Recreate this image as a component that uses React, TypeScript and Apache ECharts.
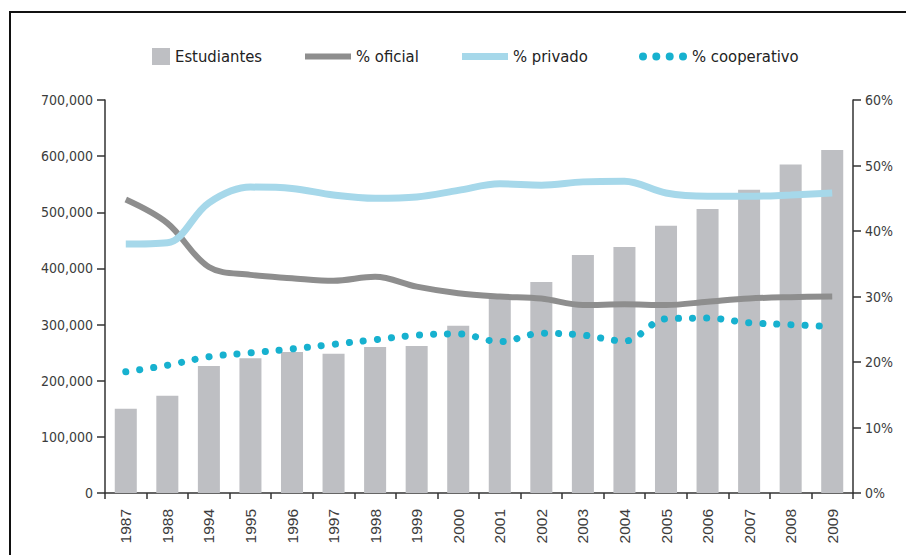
import React, { useEffect, useRef } from "react";
import * as echarts from "echarts";

const categories = ["1987", "1988", "1994", "1995", "1996", "1997", "1998", "1999", "2000", "2001", "2002", "2003", "2004", "2005", "2006", "2007", "2008", "2009"];
const estudiantes = [150000, 173000, 226000, 240000, 251000, 248000, 260000, 262000, 298000, 350000, 376000, 424000, 438000, 476000, 506000, 540000, 585000, 611000];
const oficial = [44.8, 41.2, 34.5, 33.3, 32.8, 32.4, 33.0, 31.5, 30.5, 30.0, 29.7, 28.7, 28.8, 28.7, 29.2, 29.7, 29.9, 30.0];
const privado = [38.0, 38.2, 44.3, 46.7, 46.5, 45.5, 45.0, 45.2, 46.2, 47.2, 47.0, 47.5, 47.6, 45.8, 45.3, 45.3, 45.5, 45.8];
const cooperativo = [18.5, 19.5, 20.8, 21.4, 22.0, 22.7, 23.4, 24.1, 24.3, 23.1, 24.4, 24.1, 23.2, 26.6, 26.7, 26.0, 25.7, 25.4];
const leftTicks = { min: 0, max: 700000, interval: 100000 };
const rightTicks = { min: 0, max: 60, interval: 10 };

const FONT = "'DejaVu Sans Condensed', 'DejaVu Sans', sans-serif";
const TXT = "#3c3c3c";
const DOTS_ICON =
  "path://M0,4a4,4 0 1,0 8,0a4,4 0 1,0 -8,0Z M13.3,4a4,4 0 1,0 8,0a4,4 0 1,0 -8,0Z M26.7,4a4,4 0 1,0 8,0a4,4 0 1,0 -8,0Z M40,4a4,4 0 1,0 8,0a4,4 0 1,0 -8,0Z";

export default function App() {
  const ref = useRef<HTMLDivElement>(null);
  useEffect(() => {
    document.body.style.margin = "0";
    const chart = echarts.init(ref.current!, null, { renderer: "svg" });
    const legendText = { fontSize: 16.5, fontFamily: FONT, color: "#222" };
    const axisLine = { show: true, lineStyle: { color: "#333", width: 1.5 } };
    chart.setOption({
      animation: false,
      backgroundColor: "#fff",
      graphic: [
        {
          type: "rect",
          shape: { x: 10, y: 12, width: 1200, height: 1200 },
          style: { fill: "none", stroke: "#111", lineWidth: 2 },
          silent: true,
        },
      ],
      legend: [
        { left: 152, top: 48, padding: 0, itemWidth: 18, itemHeight: 17, data: [{ name: "Estudiantes", icon: "rect" }], textStyle: legendText },
        { left: 305, top: 48, padding: 0, itemWidth: 46, itemHeight: 6, data: [{ name: "% oficial", icon: "rect" }], textStyle: legendText },
        { left: 462, top: 48, padding: 0, itemWidth: 46, itemHeight: 7, data: [{ name: "% privado", icon: "rect" }], textStyle: legendText },
        { left: 639, top: 48, padding: 0, itemWidth: 48, itemHeight: 8, data: [{ name: "% cooperativo", icon: DOTS_ICON }], textStyle: legendText },
      ],
      grid: { left: 105, right: 53, top: 100, bottom: 62, containLabel: false },
      xAxis: {
        type: "category",
        data: categories,
        boundaryGap: true,
        axisLine,
        axisTick: { show: true, length: 6, alignWithLabel: false, lineStyle: { color: "#333", width: 1.5 } },
        axisLabel: { rotate: 90, margin: 16, fontSize: 15.5, fontFamily: "'Liberation Sans', Arial, sans-serif", color: TXT, interval: 0 },
      },
      yAxis: [
        {
          type: "value",
          ...leftTicks,
          position: "left",
          axisLine,
          axisTick: { show: true, length: 8, lineStyle: { color: "#333", width: 1.5 } },
          splitLine: { show: false },
          axisLabel: {
            margin: 12,
            fontSize: 14,
            fontFamily: FONT,
            color: TXT,
            formatter: (v: number) => v.toLocaleString("en-US"),
          },
        },
        {
          type: "value",
          ...rightTicks,
          position: "right",
          axisLine,
          axisTick: { show: true, length: 8, lineStyle: { color: "#333", width: 1.5 } },
          splitLine: { show: false },
          axisLabel: { margin: 12, fontSize: 14, fontFamily: FONT, color: TXT, formatter: "{value}%" },
        },
      ],
      series: [
        {
          name: "Estudiantes",
          type: "bar",
          data: estudiantes,
          barWidth: "53%",
          itemStyle: { color: "#bebfc3" },
          yAxisIndex: 0,
          z: 1,
        },
        {
          name: "% oficial",
          type: "line",
          yAxisIndex: 1,
          data: oficial,
          smooth: 0.35,
          symbol: "none",
          itemStyle: { color: "#8e8e8e" },
          lineStyle: { color: "#8e8e8e", width: 6 },
          z: 3,
        },
        {
          name: "% privado",
          type: "line",
          yAxisIndex: 1,
          data: privado,
          smooth: 0.35,
          symbol: "none",
          itemStyle: { color: "#a6d8ea" },
          lineStyle: { color: "#a6d8ea", width: 7 },
          z: 3,
        },
        {
          name: "% cooperativo",
          type: "line",
          yAxisIndex: 1,
          data: cooperativo,
          smooth: 0.35,
          symbol: "none",
          itemStyle: { color: "#17b1cf" },
          lineStyle: { color: "#17b1cf", width: 7, type: [0.1, 14], cap: "round" },
          z: 4,
        },
      ],
    });
    return () => chart.dispose();
  }, []);
  return <div ref={ref} style={{ width: 906, height: 555 }} />;
}
